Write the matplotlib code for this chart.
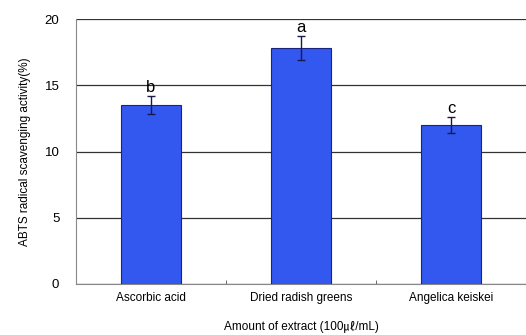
import matplotlib
matplotlib.use('Agg')
import matplotlib.pyplot as plt

categories = ['Ascorbic acid', 'Dried radish greens', 'Angelica keiskei']
values = [13.5, 17.8, 12.0]
errors = [0.7, 0.9, 0.6]
letters = ['b', 'a', 'c']

plt.rcParams['font.family'] = ['Liberation Sans', 'Noto Sans CJK KR', 'DejaVu Sans']

fig = plt.figure(figsize=(5.26, 3.35), dpi=100)
ax = fig.add_axes([76 / 526, 1 - 284 / 335, 450 / 526, 265 / 335])

x = range(len(categories))
ax.bar(x, values, width=0.4, color='#3358F0', edgecolor='#1a237e', linewidth=0.8, zorder=3)
ax.errorbar(x, values, yerr=errors, fmt='none', ecolor='#1a1a4a', elinewidth=1,
            capsize=3, capthick=1, zorder=4)
for xi, v, e, lab in zip(x, values, errors, letters):
    ax.text(xi, v + e + 0.1, lab, ha='center', va='bottom', fontsize=12)

ax.set_xlim(-0.5, 2.5)
ax.set_ylim(0, 20)
ax.set_yticks([0, 5, 10, 15, 20])
ax.yaxis.grid(True, color='#333333', linewidth=0.9, zorder=0)
ax.set_axisbelow(True)
ax.tick_params(axis='y', length=0, labelsize=9.5, pad=12)
ax.set_xticks(list(x))
ax.set_xticklabels(categories, fontsize=8.5)
ax.tick_params(axis='x', length=0, pad=6)
ax.set_xticks([0.5, 1.5], minor=True)
ax.tick_params(axis='x', which='minor', direction='in', length=3, color='#555555')

for s in ['top', 'right']:
    ax.spines[s].set_visible(False)
ax.spines['left'].set_color('#888888')
ax.spines['bottom'].set_color('#888888')

ax.set_ylabel('ABTS radical scavenging activity(%)', fontsize=8.5, labelpad=10)
ax.set_xlabel('Amount of extract (100㎕/mL)', fontsize=8.5, labelpad=12)

plt.savefig('out.png', dpi=100)
